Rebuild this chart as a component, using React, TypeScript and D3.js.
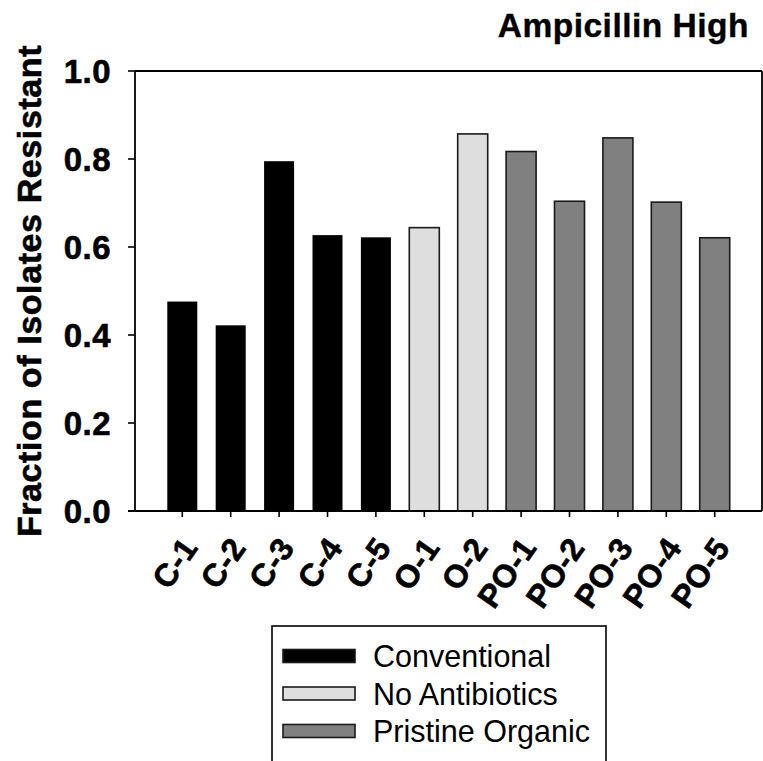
import React from "react";
import * as d3 from "d3";

const categories = ["C-1", "C-2", "C-3", "C-4", "C-5", "O-1", "O-2", "PO-1", "PO-2", "PO-3", "PO-4", "PO-5"];
const values = [0.476, 0.422, 0.795, 0.627, 0.622, 0.644, 0.857, 0.817, 0.704, 0.848, 0.702, 0.621];
const groups = ["Conventional", "Conventional", "Conventional", "Conventional", "Conventional", "No Antibiotics", "No Antibiotics", "Pristine Organic", "Pristine Organic", "Pristine Organic", "Pristine Organic", "Pristine Organic"];
const legendNames = ["Conventional", "No Antibiotics", "Pristine Organic"];
const legendColors = ["#000000", "#dedede", "#808080"];
const yTicks = [0, 0.2, 0.4, 0.6, 0.8, 1.0];
const title = "Ampicillin High";
const yTitle = "Fraction of Isolates Resistant";

const W = 763;
const H = 761;
const left = 135;
const right = 762;
const top = 71;
const bottom = 511;

export default function App() {
  const x = d3.scaleBand<string>().domain(categories).range([left, right]).paddingInner(0.38).paddingOuter(0.667);
  const y = d3.scaleLinear().domain([0, 1]).range([bottom, top]);
  const color = d3.scaleOrdinal<string, string>().domain(legendNames).range(legendColors);
  const boldFont = { fontFamily: "Liberation Sans, Arial, sans-serif", fontWeight: 700, fontSize: 33, letterSpacing: 0.5 } as const;
  const data = categories.map((c, i) => ({ c, v: values[i], g: groups[i] }));

  return (
    <svg width={W} height={H} style={{ position: "absolute", left: 0, top: 0, background: "#fff" }}>
      <rect x={0} y={0} width={W} height={H} fill="#fff" />
      {data.map((d) => (
        <rect
          key={d.c}
          x={x(d.c)}
          y={y(d.v)}
          width={x.bandwidth()}
          height={y(0) - y(d.v)}
          fill={color(d.g)}
          stroke={d.g === "Conventional" ? "none" : "#1a1a1a"}
          strokeWidth={1.6}
        />
      ))}
      <line x1={left} x2={right} y1={top} y2={top} stroke="#000" strokeWidth={1.8} />
      <line x1={right} x2={right} y1={top} y2={bottom} stroke="#000" strokeWidth={1.8} />
      <line x1={left} x2={left} y1={top} y2={bottom} stroke="#000" strokeWidth={1.8} />
      <line x1={left - 7} x2={right} y1={bottom} y2={bottom} stroke="#000" strokeWidth={1.8} />
      {yTicks.map((t) => (
        <g key={t}>
          <line x1={left - 7} x2={left} y1={y(t)} y2={y(t)} stroke="#000" strokeWidth={1.6} />
          <text x={111} y={y(t) + 11.5} textAnchor="end" stroke="#000" strokeWidth={0.6} style={boldFont}>
            {d3.format(".1f")(t)}
          </text>
        </g>
      ))}
      {categories.map((c) => {
        const cx = (x(c) as number) + x.bandwidth() / 2;
        return (
          <g key={c}>
            <line x1={cx} x2={cx} y1={bottom} y2={bottom + 6} stroke="#000" strokeWidth={1.6} />
            <text
              transform={`translate(${cx + 16.5},${548}) rotate(-55)`}
              textAnchor="end"
              stroke="#000"
              strokeWidth={0.6}
              style={{ ...boldFont, fontSize: 32, letterSpacing: 0.3 }}
            >
              {c}
            </text>
          </g>
        );
      })}
      <text
        transform={`translate(41,${(top + bottom) / 2}) rotate(-90)`}
        textAnchor="middle"
        stroke="#000"
        strokeWidth={0.6}
        style={{ ...boldFont, fontSize: 34, letterSpacing: 0.6 }}
      >
        {yTitle}
      </text>
      <text x={749} y={37} textAnchor="end" stroke="#000" strokeWidth={0.4} style={{ ...boldFont, fontSize: 33.5 }}>
        {title}
      </text>
      <rect x={272} y={626} width={334} height={200} fill="#fff" stroke="#000" strokeWidth={1.6} />
      {legendNames.map((n, i) => {
        const cy = 656 + i * 37.5;
        return (
          <g key={n}>
            <rect x={283} y={cy - 6.5} width={72} height={13} fill={legendColors[i]} stroke="#1a1a1a" strokeWidth={1.6} />
            <text x={373} y={cy + 11} style={{ fontFamily: "Liberation Sans, Arial, sans-serif", fontSize: 30.5 }}>
              {n}
            </text>
          </g>
        );
      })}
    </svg>
  );
}
